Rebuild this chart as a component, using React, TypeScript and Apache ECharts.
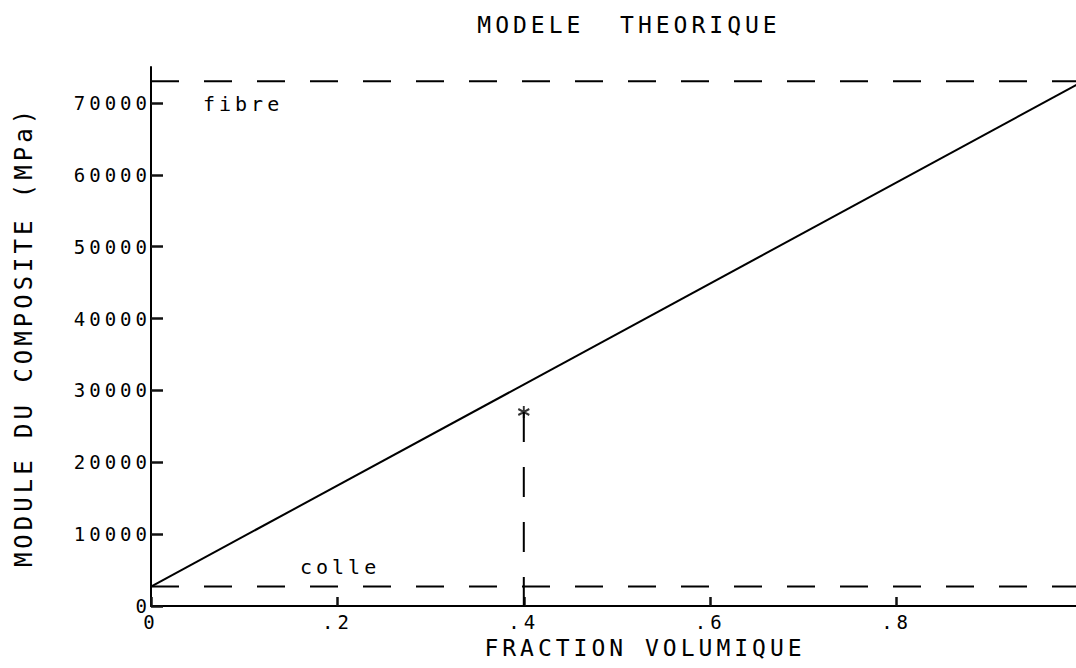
import React, { useEffect, useRef } from "react";
import * as echarts from "echarts";

// ---- data ----
const E_COLLE = 2700; // MPa, modulus of the matrix (colle)
const E_FIBRE = 73000; // MPa, modulus of the fibre
const fractionRange = [0, 1];
const mixtureLine = [
  [0, E_COLLE],
  [1, E_FIBRE],
];
const fibreLine = [
  [0, E_FIBRE],
  [1, E_FIBRE],
];
const colleLine = [
  [0, E_COLLE],
  [1, E_COLLE],
];
const measuredPoint = [[0.4, 27000]];
const measuredDrop = [
  [0.4, 27000],
  [0.4, 0],
];
const xTickValues = [0, 0.2, 0.4, 0.6, 0.8];
const xTickLabels = ["0", ".2", ".4", ".6", ".8"];
const yTickValues = [0, 10000, 20000, 30000, 40000, 50000, 60000, 70000];
const yTickLabels = ["0", "10000", "20000", "30000", "40000", "50000", "60000", "70000"];

const FONT = "'DejaVu Sans Mono', monospace";

export default function App() {
  const ref = useRef<HTMLDivElement>(null);

  useEffect(() => {
    if (!ref.current) return;
    const chart = echarts.init(ref.current, undefined, { renderer: "svg" });
    const dash = [28, 25];
    chart.setOption({
      animation: false,
      backgroundColor: "#ffffff",
      title: {
        text: "MODELE  THEORIQUE",
        left: 624,
        top: 8,
        textAlign: "center",
        textStyle: { fontFamily: FONT, fontSize: 23, fontWeight: "normal", color: "#000" },
      },
      grid: {
        left: 151,
        right: -7,
        top: 67,
        bottom: 62,
        containLabel: false,
        outerBoundsMode: "none",
      },
      xAxis: {
        type: "value",
        min: fractionRange[0],
        max: fractionRange[1],
        interval: 0.2,
        name: "FRACTION VOLUMIQUE",
        nameLocation: "middle",
        nameGap: 30,
        nameTextStyle: { fontFamily: FONT, fontSize: 23, color: "#000", padding: [0, 0, 0, 56] },
        axisLine: { show: true, onZero: false, lineStyle: { color: "#000", width: 2 } },
        axisTick: { show: true, inside: true, length: 9, lineStyle: { color: "#111", width: 2.5 } },
        splitLine: { show: false },
        axisLabel: {
          fontFamily: FONT,
          fontSize: 19,
          color: "#000",
          margin: 6,
          showMaxLabel: false,
          formatter: (v: number) => {
            const i = xTickValues.findIndex((t) => Math.abs(t - v) < 1e-6);
            return i >= 0 ? xTickLabels[i] : "";
          },
        },
      },
      yAxis: {
        type: "value",
        min: 0,
        max: 75000,
        interval: 10000,
        name: "MODULE DU COMPOSITE (MPa)",
        nameLocation: "middle",
        nameGap: 115,
        nameRotate: 90,
        nameTextStyle: { fontFamily: FONT, fontSize: 24, color: "#000" },
        axisLine: { show: true, onZero: false, lineStyle: { color: "#000", width: 2 } },
        axisTick: { show: true, inside: true, length: 12, lineStyle: { color: "#111", width: 2.5 } },
        splitLine: { show: false },
        axisLabel: {
          fontFamily: FONT,
          fontSize: 19,
          color: "#000",
          margin: 0,
          showMaxLabel: false,
          formatter: (v: number) => {
            const i = yTickValues.indexOf(v);
            return i >= 0 ? yTickLabels[i] : "";
          },
        },
      },
      graphic: [
        {
          type: "text",
          left: 203,
          top: 94,
          style: { text: "fibre", font: `20px ${FONT}`, fill: "#000" },
        },
        {
          type: "text",
          left: 300,
          top: 557,
          style: { text: "colle", font: `20px ${FONT}`, fill: "#000" },
        },
      ],
      series: [
        {
          type: "line",
          data: mixtureLine,
          showSymbol: false,
          lineStyle: { color: "#000", width: 2 },
        },
        {
          type: "line",
          data: fibreLine,
          showSymbol: false,
          lineStyle: { color: "#000", width: 2, type: dash },
        },
        {
          type: "line",
          data: colleLine,
          showSymbol: false,
          lineStyle: { color: "#000", width: 2, type: dash },
        },
        {
          type: "line",
          data: measuredDrop,
          showSymbol: false,
          lineStyle: { color: "#000", width: 2, type: [30, 25] },
        },
        {
          type: "scatter",
          data: measuredPoint,
          symbol: "path://M0,-10L0,10M-8.66,-5L8.66,5M-8.66,5L8.66,-5",
          symbolSize: [11, 12],
          itemStyle: { color: "transparent", borderColor: "#000", borderWidth: 2 },
        },
      ],
    });
    return () => chart.dispose();
  }, []);

  return (
    <div style={{ position: "fixed", left: 0, top: 0, width: 1076, height: 668, overflow: "hidden", background: "#fff" }}>
      <style>{`#chart text { letter-spacing: 4px; }`}</style>
      <div id="chart" ref={ref} style={{ width: 1076, height: 668 }} />
    </div>
  );
}
